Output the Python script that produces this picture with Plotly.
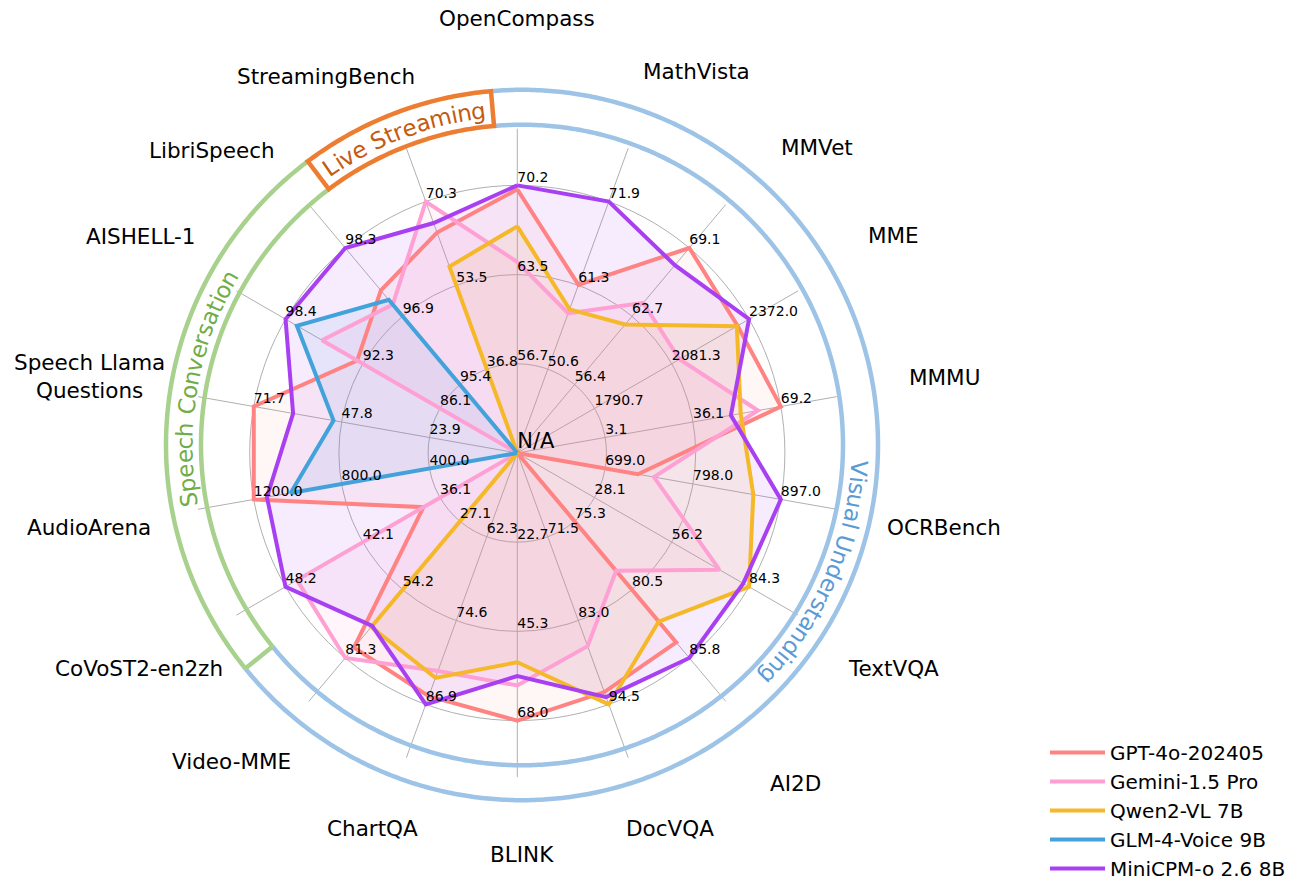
import math
import plotly.graph_objects as go

W, H = 1291, 888

# ---------------- data ----------------
categories = ["OpenCompass", "MathVista", "MMVet", "MME", "MMMU", "OCRBench", "TextVQA",
              "AI2D", "DocVQA", "BLINK", "ChartQA", "Video-MME", "CoVoST2-en2zh",
              "AudioArena", "Speech Llama Questions", "AISHELL-1", "LibriSpeech",
              "StreamingBench"]

# per-axis tick values printed on the three grid rings
tick_low = [56.7, 50.6, 56.4, 1790.7, 3.1, 699.0, 28.1, 75.3, 71.5, 22.7, 62.3, 27.1,
            36.1, 400.0, 23.9, 86.1, 95.4, 36.8]
tick_mid = [63.5, 61.3, 62.7, 2081.3, 36.1, 798.0, 56.2, 80.5, 83.0, 45.3, 74.6, 54.2,
            42.1, 800.0, 47.8, 92.3, 96.9, 53.5]
tick_high = [70.2, 71.9, 69.1, 2372.0, 69.2, 897.0, 84.3, 85.8, 94.5, 68.0, 86.9, 81.3,
             48.2, 1200.0, 71.7, 98.4, 98.3, 70.3]

# None = N/A (drawn at the centre)
gpt4o = [69.9, 61.3, 69.1, 2328.7, 69.2, 736, None, 84.6, 92.8, 68.0, 85.7, 77.2,
         37.4, 1200, 71.7, 92.7, 97.4, 64.1]
gemini = [64.4, 57.7, 64.0, 2110.6, 60.6, 754, 73.5, 79.1, 86.5, 59.1, 82.0, 81.3,
          47.3, None, None, 95.5, 97.1, 70.3]
qwen2vl = [67.1, 58.2, 62.0, 2326.0, 54.1, 866, 84.3, 83.0, 94.5, 53.2, 83.0, 69.0,
           None, None, None, None, None, 57.3]
glm4voice = [None, None, None, None, None, None, None, None, None, None, None, None,
             None, 1032, 50.0, 97.5, 97.2, None]
minicpmo = [70.2, 71.9, 67.5, 2372.0, 50.4, 897, 82.2, 85.8, 93.5, 56.7, 86.9, 68.6,
            48.2, 1140, 61.0, 98.4, 98.3, 66.0]

series_names = ["GPT-4o-202405", "Gemini-1.5 Pro", "Qwen2-VL 7B", "GLM-4-Voice 9B",
                "MiniCPM-o 2.6 8B"]
series_values = [gpt4o, gemini, qwen2vl, glm4voice, minicpmo]

group_labels = ["Visual Understanding", "Speech Conversation", "Live Streaming"]

# ---------------- styles / layout ----------------
colors = ["#FF8383", "#FFA0D4", "#F5B829", "#42A2D9", "#A840F2"]
fill_alpha = [0.07, 0.10, 0.10, 0.10, 0.10]
group_colors_line = ["#9DC3E6", "#A9D18E", "#ED7D31"]
group_colors_text = ["#5B9BD5", "#70AD47", "#C55A11"]

CX, CY = 517.3, 454.0          # polar centre (px)
UNIT = 89.4                     # px per ring
RMAX = 3.635                    # spokes end
RPX = RMAX * UNIT

# axis label centres (px)
label_pos = [(516.7, 18.3), (696.3, 71.7), (817.0, 148.3), (893.0, 236.0), (944.0, 378.0),
             (943.6, 528.3), (893.6, 669.7), (795.5, 785.0), (669.7, 830.7), (521.7, 856.7),
             (372.5, 830.7), (231.2, 763.0), (139.0, 669.7), (88.8, 528.3), (89.3, 377.5),
             (140.0, 236.7), (212.2, 151.0), (325.7, 76.7)]

# group band geometry (px, angles clockwise from top)
BCX, BCY = 522.0, 446.0
R_IN, R_OUT = 321.0, 356.0
R_TXT = 337.5
blue_span = (355.0, 591.0)
green_span = (231.0, 323.0)
orange_span = (323.0, 355.0)
text_mid_angles = [113.55, 280.25, 339.1]
ARC_FONT = 23

def rgba(hexc, a):
    h = hexc.lstrip('#')
    return "rgba(%d,%d,%d,%.2f)" % (int(h[0:2], 16), int(h[2:4], 16), int(h[4:6], 16), a)

steps = [(h - l) / 2.0 for l, h in zip(tick_low, tick_high)]
origins = [l - s for l, s in zip(tick_low, steps)]

def norm(vals):
    return [0.0 if v is None else (v - o) / s for v, o, s in zip(vals, origins, steps)]

fig = go.Figure()
theta_closed = categories + categories[:1]

# fills
for name, col, a, vals in zip(series_names, colors, fill_alpha, series_values):
    r = norm(vals)
    r = r + r[:1]
    fig.add_trace(go.Scatterpolar(r=r, theta=theta_closed, mode='lines',
                                  line=dict(width=0, color=col), fill='toself',
                                  fillcolor=rgba(col, a), showlegend=False,
                                  hoverinfo='skip'))
# lines
for name, col, vals in zip(series_names, colors, series_values):
    r = norm(vals)
    r = r + r[:1]
    fig.add_trace(go.Scatterpolar(r=r, theta=theta_closed, mode='lines', name=name,
                                  line=dict(width=4, color=col)))

# ring tick labels
for ring, labs in ((1, tick_low), (2, tick_mid), (3, tick_high)):
    fig.add_trace(go.Scatterpolar(r=[ring] * len(categories), theta=categories, mode='text',
                                  text=["%.1f" % v for v in labs], textposition='top right',
                                  textfont=dict(size=14, color='black', family='DejaVu Sans'),
                                  showlegend=False, hoverinfo='skip'))
fig.add_trace(go.Scatterpolar(r=[0], theta=[categories[0]], mode='text', text=['N/A'],
                              textposition='top right',
                              textfont=dict(size=21, color='black', family='DejaVu Sans'),
                              showlegend=False, hoverinfo='skip'))

def px2paper(x, y):
    return x / W, 1 - y / H

annotations = []
for name, (x, y) in zip(categories, label_pos):
    txt = name if name != "Speech Llama Questions" else "Speech Llama<br>Questions"
    px, py = px2paper(x, y)
    annotations.append(dict(x=px, y=py, xref='paper', yref='paper', text=txt,
                            showarrow=False, xanchor='center', yanchor='middle',
                            font=dict(size=21.5, color='black', family='DejaVu Sans')))

# band shapes
def bpt(theta, R):
    t = math.radians(theta)
    return px2paper(BCX + R * math.sin(t), BCY - R * math.cos(t))

def arc_pts(a0, a1, R, n=None):
    n = n or max(2, int(abs(a1 - a0) * 2) + 1)
    return [bpt(a0 + (a1 - a0) * i / (n - 1), R) for i in range(n)]

def path_from(pts, close=False):
    s = "M %.5f,%.5f " % pts[0] + " ".join("L %.5f,%.5f" % p for p in pts[1:])
    return s + (" Z" if close else "")

shapes = []
for R in (R_IN, R_OUT):
    shapes.append(dict(type='path', xref='paper', yref='paper',
                       path=path_from(arc_pts(blue_span[0], blue_span[1], R)),
                       line=dict(color=group_colors_line[0], width=4.5)))
for R in (R_IN, R_OUT):
    shapes.append(dict(type='path', xref='paper', yref='paper',
                       path=path_from(arc_pts(green_span[0], green_span[1], R)),
                       line=dict(color=group_colors_line[1], width=4.5)))
shapes.append(dict(type='path', xref='paper', yref='paper',
                   path=path_from([bpt(green_span[0], R_IN), bpt(green_span[0], R_OUT)]),
                   line=dict(color=group_colors_line[1], width=4.5)))
box = arc_pts(orange_span[0], orange_span[1], R_OUT) + arc_pts(orange_span[1], orange_span[0], R_IN)
shapes.append(dict(type='path', xref='paper', yref='paper', path=path_from(box, close=True),
                   line=dict(color=group_colors_line[2], width=4.5)))

# curved group texts
cw = {'V': .684, 'i': .278, 's': .521, 'u': .634, 'a': .613, 'l': .278, ' ': .318,
      'U': .732, 'n': .634, 'd': .635, 'e': .615, 'r': .411, 't': .392, 'g': .635,
      'S': .635, 'p': .635, 'c': .550, 'h': .634, 'C': .698, 'o': .612, 'v': .592,
      'L': .557, 'm': .974}
for label, mid, col in zip(group_labels, text_mid_angles, group_colors_text):
    widths = [cw.get(ch, 0.6) * ARC_FONT for ch in label]
    centers = []
    acc = 0.0
    for w in widths:
        centers.append(acc + w / 2)
        acc += w
    off = (centers[0] + centers[-1]) / 2
    for ch, c in zip(label, centers):
        if ch == ' ':
            continue
        ang = mid + math.degrees((c - off) / R_TXT)
        x, y = bpt(ang, R_TXT)
        ta = ang % 360
        if ta > 180:
            ta -= 360
        annotations.append(dict(x=x, y=y, xref='paper', yref='paper', text=ch,
                                showarrow=False, xanchor='center', yanchor='middle',
                                textangle=ta,
                                font=dict(size=ARC_FONT, color=col, family='DejaVu Sans')))

fig.update_layout(
    width=W, height=H, autosize=False,
    margin=dict(l=0, r=0, t=0, b=0),
    paper_bgcolor='white', plot_bgcolor='white',
    font=dict(family='DejaVu Sans', color='black'),
    polar=dict(
        domain=dict(x=[(CX - RPX) / W, (CX + RPX) / W], y=[1 - (CY + RPX) / H, 1 - (CY - RPX) / H]),
        bgcolor='white',
        radialaxis=dict(range=[0, RMAX], tickvals=[1, 2, 3], showticklabels=False, ticks='',
                        showline=False, gridcolor='#b0b0b0', gridwidth=1),
        angularaxis=dict(type='category', categoryarray=categories, rotation=90,
                         direction='clockwise', showticklabels=False, ticks='',
                         showline=False, gridcolor='#b0b0b0', gridwidth=1),
    ),
    legend=dict(x=1045 / W, y=1 - 735 / H, xanchor='left', yanchor='top',
                font=dict(size=20, family='DejaVu Sans', color='black'),
                bgcolor='rgba(0,0,0,0)', itemwidth=55),
    annotations=annotations,
    shapes=shapes,
    showlegend=True,
)

fig.write_html("out.html", config={'displayModeBar': False},
               post_script="document.body.style.margin='0';")
